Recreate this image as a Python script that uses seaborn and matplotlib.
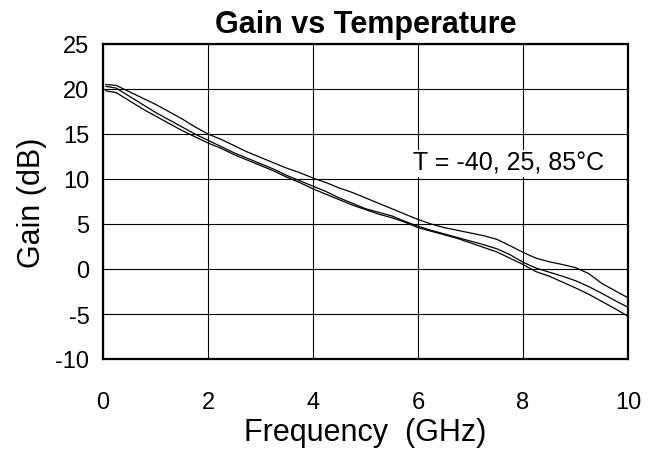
import numpy as np
import pandas as pd
import matplotlib
matplotlib.use("Agg")
import matplotlib.pyplot as plt
import seaborn as sns

# ---- data ----
freq_ghz = [0.05, 0.25, 0.5, 0.75, 1.0, 1.25, 1.5, 1.75, 2.0, 2.25, 2.5, 2.75,
            3.0, 3.25, 3.5, 3.75, 4.0, 4.25, 4.5, 4.75, 5.0, 5.25, 5.5, 5.75,
            6.0, 6.25, 6.5, 6.75, 7.0, 7.25, 7.5, 7.75, 8.0, 8.25, 8.5, 8.75,
            9.0, 9.25, 9.5, 9.75, 10.0]
gain_m40 = [20.5, 20.4, 19.7, 19.0, 18.3, 17.5, 16.7, 15.8, 15.0, 14.4, 13.7, 13.0,
            12.4, 11.8, 11.2, 10.7, 10.1, 9.6, 9.0, 8.5, 7.9, 7.3, 6.7, 6.1,
            5.5, 5.0, 4.6, 4.3, 4.0, 3.7, 3.3, 2.6, 1.85, 1.2, 0.8, 0.5,
            0.15, -0.5, -1.6, -2.4, -3.2]
gain_25 = [20.3, 20.1, 19.2, 18.3, 17.4, 16.6, 15.8, 15.0, 14.3, 13.6, 12.9, 12.3,
           11.7, 11.1, 10.4, 9.8, 9.2, 8.6, 7.9, 7.3, 6.7, 6.3, 5.9, 5.3,
           4.75, 4.3, 3.9, 3.5, 3.1, 2.7, 2.25, 1.6, 0.75, 0.1, -0.35, -0.8,
           -1.3, -1.95, -2.7, -3.5, -4.25]
gain_85 = [19.8, 19.6, 18.7, 17.8, 17.0, 16.2, 15.4, 14.7, 14.0, 13.4, 12.7, 12.1,
           11.5, 10.9, 10.2, 9.6, 8.9, 8.3, 7.7, 7.1, 6.6, 6.1, 5.7, 5.2,
           4.6, 4.2, 3.8, 3.4, 2.9, 2.4, 1.9, 1.2, 0.5, -0.3, -0.8, -1.45,
           -2.1, -2.8, -3.6, -4.4, -5.25]
temps = ["-40", "25", "85"]
x_ticks = [0, 2, 4, 6, 8, 10]
y_ticks = [-10, -5, 0, 5, 10, 15, 20, 25]

df = pd.concat([
    pd.DataFrame({"freq": freq_ghz, "gain": g, "temp": t})
    for g, t in zip([gain_m40, gain_25, gain_85], temps)
], ignore_index=True)

sns.set_style("white")
plt.rcParams["font.family"] = ["Liberation Sans", "DejaVu Sans"]
plt.rcParams["axes.unicode_minus"] = False
plt.rcParams["text.color"] = "black"
plt.rcParams["axes.labelcolor"] = "black"

fig = plt.figure(figsize=(6.59, 4.60), dpi=100)
ax = fig.add_axes([103 / 659, 1 - 360 / 460, 525 / 659, 315 / 460])

sns.lineplot(data=df, x="freq", y="gain", hue="temp", units="temp",
             estimator=None, sort=False, palette=["black"] * 3,
             legend=False, linewidth=0.9, ax=ax)

ax.set_xlim(0, 10)
ax.set_ylim(-10, 25)
ax.set_xticks(x_ticks)
ax.set_yticks(y_ticks)
ax.grid(True, color="black", linewidth=0.8)
ax.set_axisbelow(True)
for s in ax.spines.values():
    s.set_visible(True)
    s.set_color("black")
    s.set_linewidth(1.6)

ax.tick_params(axis="both", direction="inout", length=9.5, width=0.9,
               color="black", labelsize=17, labelcolor="black")
ax.tick_params(axis="x", pad=18)
ax.tick_params(axis="y", pad=5)

ax.set_xlabel("Frequency  (GHz)", fontsize=22, labelpad=3, color="black")
ax.set_ylabel("Gain (dB)", fontsize=22, labelpad=6, color="black")
ax.set_title("Gain vs Temperature", fontsize=22, fontweight="bold", pad=8.6,
             color="black")

ax.text(5.9, 11.0, "T = -40, 25, 85\u00b0C", fontsize=18, ha="left", va="baseline",
        color="black", bbox=dict(facecolor="white", edgecolor="none", pad=1))

fig.savefig("out.png", dpi=100)
